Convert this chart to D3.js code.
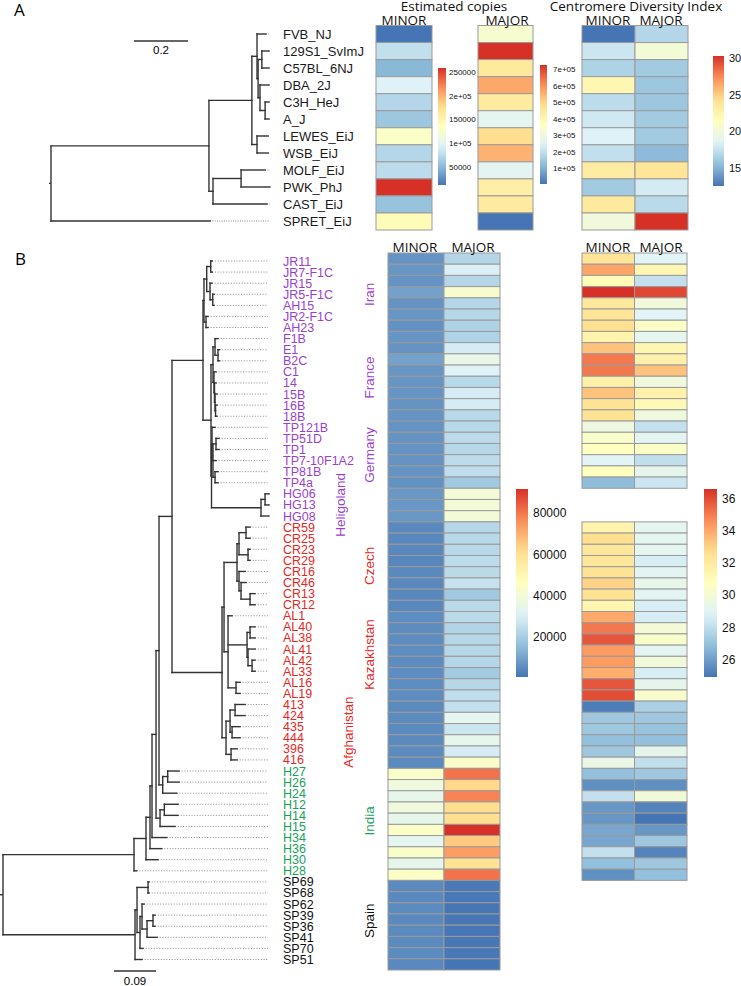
<!DOCTYPE html>
<html><head><meta charset="utf-8">
<script src="https://cdn.jsdelivr.net/npm/d3@7"></script>
<style>
body{margin:0;background:#fff}
text{font-family:"Liberation Sans",Arial,Helvetica,sans-serif}
.hd{font-family:"Open Sans","Liberation Sans",sans-serif}
</style>
</head><body>
<svg id="c" width="741" height="986" xmlns="http://www.w3.org/2000/svg"></svg>
<script>
// ---------------- DATA ----------------
// Panel A
const treeA = "((((FVB_NJ:0.033,((129S1_SvImJ:0.026,C57BL_6NJ:0.026):0.014,(DBA_2J:0.033,(C3H_HeJ:0.014,A_J:0.014):0.019):0.007):0.004):0.019,(LEWES_EiJ:0.041,WSB_EiJ:0.041):0.019):0.159,((MOLF_EiJ:0.089,PWK_PhJ:0.107):0.104,CAST_EiJ:0.2):0.015):0.585,SPRET_EiJ:0.589);";
const tipsA = ["FVB_NJ","129S1_SvImJ","C57BL_6NJ","DBA_2J","C3H_HeJ","A_J","LEWES_EiJ","WSB_EiJ","MOLF_EiJ","PWK_PhJ","CAST_EiJ","SPRET_EiJ"];
const copiesMinorA = [12000, 78000, 49000, 93000, 71000, 59000, 130000, 71000, 76000, 258000, 56000, 140000];
const copiesMajorA = [328000, 724000, 450000, 566000, 443000, 263000, 486000, 551000, 256000, 429000, 443000, 5000];
const cdiMinorA = [12.5, 17.7, 16.6, 22.3, 17.1, 17.8, 18.4, 17.3, 23.2, 16.1, 23.4, 20.0];
const cdiMajorA = [16.8, 20.2, 16.1, 15.9, 15.9, 16.1, 16.1, 15.3, 23.9, 18.0, 17.0, 30.3];
const ticksCopiesMinorA = [50000, 100000, 150000, 200000, 250000];
const tickLabCopiesMinorA = ["50000", "1e+05", "150000", "2e+05", "250000"];
const ticksCopiesMajorA = [100000, 200000, 300000, 400000, 500000, 600000, 700000];
const tickLabCopiesMajorA = ["1e+05", "2e+05", "3e+05", "4e+05", "5e+05", "6e+05", "7e+05"];
const ticksCdiA = [15, 20, 25, 30];
const scaleBarA = 0.2;

// Panel B
const treeB = "((((((((((((JR11:0.0034,JR7-F1C:0.0034):0.0086,(JR15:0.0043,(JR5-F1C:0.0028,AH15:0.0028):0.0058):0.0071):0.0058,(JR2-F1C:0.0043,AH23:0.0043):0.0043):0.0021,(((F1B:0.0064,(E1:0.0032,B2C:0.0032):0.0064):0.0043,(C1:0.0043,(14:0.0032,(15B:0.0043,(16B:0.0032,18B:0.0032):0.0011):0.0011):0.0011):0.0021):0.0043,((TP121B:0.0064,((TP51D:0.0064,TP1:0.0064):0.0064,TP7-10F1A2:0.0064,(TP81B:0.0064,TP4a:0.0064):0.0043):0.0021):0.0011,((HG06:0.0086,HG13:0.0086):0.0086,HG08:0.0171):0.106):0.0011):0.0171):0.0664,(((((CR59:0.0086,CR25:0.0086):0.015,(CR23:0.0043,CR29:0.0043):0.0193):0.0043,(CR16:0.0128,(CR46:0.0107,(CR13:0.0107,CR12:0.0107):0.0193):0.0043):0.0043):0.0278,(AL1:0.0086,((AL40:0.0107,AL38:0.0107):0.0064,(AL41:0.015,(AL42:0.0064,AL33:0.0064):0.0086):0.0021):0.0407,(AL16:0.0086,AL19:0.0086):0.0171):0.0086):0.0043,(((413:0.0214,424:0.0214):0.0107,(435:0.0171,444:0.0171):0.0043):0.0086,(396:0.0128,416:0.0128):0.0107):0.0086):0.1071):0.0278,((H27:0.0242,H26:0.0242):0.0107,H24:0.03):0.0079):0.0064,((H12:0.0293,H14:0.0293):0.0092,H15:0.0321):0.0086):0.0086,H34:0.0315):0.0043,H36:0.025):0.0086,H30:0.0257):0.0257,H28:0.0058):0.2805,(((SP69:0.0021,SP68:0.0021):0.0236,((SP62:0.0043,((SP39:0.0043,SP36:0.0043):0.0128,SP41:0.0214):0.0107):0.0043,SP70:0.0064):0.0064):0.0043,SP51:0.015):0.2827);";
const tipsB = ["JR11","JR7-F1C","JR15","JR5-F1C","AH15","JR2-F1C","AH23","F1B","E1","B2C","C1","14","15B","16B","18B","TP121B","TP51D","TP1","TP7-10F1A2","TP81B","TP4a","HG06","HG13","HG08","CR59","CR25","CR23","CR29","CR16","CR46","CR13","CR12","AL1","AL40","AL38","AL41","AL42","AL33","AL16","AL19","413","424","435","444","396","416","H27","H26","H24","H12","H14","H15","H34","H36","H30","H28","SP69","SP68","SP62","SP39","SP36","SP41","SP70","SP51"];
const regionNames = ["Iran","France","Germany","Heligoland","Czech","Kazakhstan","Afghanistan","India","Spain"];
const regionCounts = [7, 8, 6, 3, 8, 8, 6, 10, 8];
const copiesMinorB = [7000,7300,7000,9700,6800,7300,6300, 7300,7000,9800,7300,7100,7100,7000,6800, 7000,7000,7000,7000,6900,6300, 7800,7800,7800,
  4600,4400,4500,4300,4600,4500,4400,4500, 5500,5400,5600,5500,5300,5500,5600,5400, 5000,5100,4900,5000,5200,5000,
  43400,38000,34300,38000,34300,44300,33400,43400,34300,44300, 5000,4800,5200,4600,5000,4900,5100,4700];
const copiesMajorB = [22400,29700,22400,42500,22400,22800,21500, 21500,28800,35200,30600,23300,28800,28800,23300, 23300,24300,22800,24300,24600,18800, 39700,39700,39700,
  22800,23300,23300,24300,23600,26000,18800,23600, 23600,22000,22800,22800,22400,19000,22800,24600, 25000,33400,27000,34300,28800,43400,
  80700,62500,78000,61600,61300,91600,65200,73400,59800,80700, 1500,1200,900,1000,800,1100,1300,600];
const cdiMinorB = [32.4,34.1,31.0,36.6,32.2,32.4,32.7, 31.5,33.4,35.1,35.1,31.7,33.4,32.5,32.5, 29.6,30.4,30.75,28.9,30.75,26.8, null,null,null,
  31.5,32.7,32.3,32.3,32.5,33.0,32.5,31.4, 34.0,35.1,35.8,34.3,34.3,33.9,35.8,36.0, 25.1,27.2,27.2,26.9,27.2,29.4,
  26.9,25.6,28.1,25.8,25.8,26.2,26.2,28.1,26.9,25.6, null,null,null,null,null,null,null,null];
const cdiMajorB = [28.9,31.3,28.1,36.1,29.8,28.9,30.5, 29.1,31.3,31.6,33.4,29.8,31.6,31.1,29.7, 28.1,29.0,30.5,28.0,29.2,28.3, null,null,null,
  29.1,29.1,29.1,28.6,29.0,29.3,29.0,28.6, 28.6,30.0,30.4,29.0,29.9,28.6,29.2,30.3, 27.5,27.2,27.0,26.9,29.2,28.0,
  27.2,25.6,29.9,25.3,24.9,25.8,27.2,25.3,27.2,26.9, null,null,null,null,null,null,null,null];
const ticksCopiesB = [20000, 40000, 60000, 80000];
const ticksCdiB = [26, 28, 30, 32, 34, 36];
const scaleBarB = 0.09;

// ---------------- STYLE ----------------
const pal = ["#4575B4","#91BFDB","#E0F3F8","#FFFFBF","#FEE090","#FC8D59","#D73027"];
const regionColor = {Iran:"#9a3fd0",France:"#9a3fd0",Germany:"#9a3fd0",Heligoland:"#9a3fd0",Czech:"#e8271f",Kazakhstan:"#e8271f",Afghanistan:"#e8271f",India:"#17a25a",Spain:"#111"};
const regionX = {Heligoland:340, Afghanistan:348};

function heatScale(ext){
  const [a,b] = ext;
  return d3.scaleLinear().domain(d3.range(7).map(i=>a+(b-a)*i/6)).range(pal).interpolate(d3.interpolateRgb).clamp(true);
}
function extentOf(...arrs){ return d3.extent([].concat(...arrs).filter(v=>v!=null)); }

function parseNewick(s){
  let i=0;
  function node(){
    const n={};
    if(s[i]==='('){
      n.children=[]; i++;
      while(true){ n.children.push(node()); if(s[i]===','){i++;} else break; }
      i++;
    }
    let name=''; while(i<s.length && !':,);'.includes(s[i])) name+=s[i++];
    n.name=name;
    if(s[i]===':'){ i++; let l=''; while(i<s.length && !',);'.includes(s[i])) l+=s[i++]; n.length=+l; } else n.length=0;
    return n;
  }
  return node();
}

const svg = d3.select("#c");

function drawTree(g, newick, xs, ys, dotEnd, labX, fs, colorOf, dash, rootTick){
  const root = d3.hierarchy(parseNewick(newick));
  root.eachBefore(d=>{ d.dist = d.parent ? d.parent.dist + d.data.length : 0; });
  root.leaves().forEach((l,i)=>l.idx=i);
  root.eachAfter(d=>{ d.py = d.children ? (d.children[0].py + d.children[d.children.length-1].py)/2 : ys(d.idx); });
  const col = "#333";
  g.append("g").selectAll("line").data(root.leaves()).join("line")
    .attr("x1",d=>xs(d.dist)).attr("x2",dotEnd).attr("y1",d=>d.py).attr("y2",d=>d.py)
    .attr("stroke","#8a8a8a").attr("stroke-width",1).attr("stroke-dasharray",dash);
  g.append("g").selectAll("line").data(root.descendants().filter(d=>d.parent)).join("line")
    .attr("x1",d=>xs(d.parent.dist)).attr("x2",d=>xs(d.dist)).attr("y1",d=>d.py).attr("y2",d=>d.py)
    .attr("stroke",col).attr("stroke-width",1.4).attr("stroke-linecap","square");
  g.append("g").selectAll("line").data(root.descendants().filter(d=>d.children)).join("line")
    .attr("x1",d=>xs(d.dist)).attr("x2",d=>xs(d.dist)).attr("y1",d=>d.children[0].py).attr("y2",d=>d.children[d.children.length-1].py)
    .attr("stroke",col).attr("stroke-width",1.4).attr("stroke-linecap","square");
  g.append("line").attr("x1",xs(0)-rootTick).attr("x2",xs(0)).attr("y1",root.py).attr("y2",root.py).attr("stroke",col).attr("stroke-width",1.4);
  g.append("g").selectAll("text").data(root.leaves()).join("text")
    .attr("x",labX).attr("y",d=>d.py).attr("dy","0.36em").attr("font-size",fs)
    .attr("fill",d=>colorOf(d.data.name)).text(d=>d.data.name);
  return root;
}

function drawHeat(g, names, vals, x0, w, band, sc){
  g.append("g").selectAll("rect").data(names.map((n,i)=>({i,v:vals[i]})).filter(d=>d.v!=null)).join("rect")
    .attr("x",x0).attr("width",w).attr("y",d=>band(d.i)).attr("height",band.bandwidth())
    .attr("fill",d=>sc(d.v)).attr("stroke","#9a9a9a").attr("stroke-width",1);
}

let gid=0;
function drawLegend(g, ext, sc, x, w, yTop, yBot, ticks, labs, labX, fs){
  const id="lg"+(gid++);
  const grad = svg.append("defs").append("linearGradient").attr("id",id).attr("x1",0).attr("x2",0).attr("y1",1).attr("y2",0);
  d3.range(0,1.0001,0.05).forEach(t=>grad.append("stop").attr("offset",t).attr("stop-color",sc(ext[0]+(ext[1]-ext[0])*t)));
  g.append("rect").attr("x",x).attr("y",yTop).attr("width",w).attr("height",yBot-yTop).attr("fill",`url(#${id})`);
  const yl = d3.scaleLinear().domain(ext).range([yBot,yTop]);
  const ax = d3.axisRight(yl).tickValues(ticks).tickSize(0).tickPadding(0).tickFormat((d,i)=>labs?labs[i]:d);
  const ag = g.append("g").attr("transform",`translate(${labX},0)`).call(ax);
  ag.select(".domain").remove();
  ag.selectAll("text").attr("font-size",fs).attr("font-family","Liberation Sans, Arial, sans-serif").attr("fill","#111");
}

// ---------------- PANEL A ----------------
const gA = svg.append("g");
const xA = d3.scaleLinear().domain([0,1]).range([51,321]);
const yA = d3.scaleLinear().domain([0,11]).range([34,221]);
drawTree(gA, treeA, xA, yA, 270, 283, 13, ()=>"#1a1a1a", "1,1.3", 2);
gA.append("text").attr("x",14).attr("y",16).attr("font-size",17).text("A").attr("class","hd");
gA.append("line").attr("x1",134).attr("x2",134+xA(scaleBarA)-xA(0)).attr("y1",41).attr("y2",41).attr("stroke","#333").attr("stroke-width",1.4);
gA.append("text").attr("x",134+(xA(scaleBarA)-xA(0))/2).attr("y",54).attr("text-anchor","middle").attr("font-size",11.5).text(scaleBarA);

const bandA = d3.scaleBand().domain(d3.range(12)).range([25.5,230]);
const extCMinA = extentOf(copiesMinorA), extCMajA = extentOf(copiesMajorA), extCdiA = extentOf(cdiMinorA,cdiMajorA);
const scCMinA = heatScale(extCMinA), scCMajA = heatScale(extCMajA), scCdiA = heatScale(extCdiA);
drawHeat(gA, tipsA, copiesMinorA, 376, 56, bandA, scCMinA);
drawHeat(gA, tipsA, copiesMajorA, 478, 55, bandA, scCMajA);
drawHeat(gA, tipsA, cdiMinorA, 582, 53, bandA, scCdiA);
drawHeat(gA, tipsA, cdiMajorA, 635, 53, bandA, scCdiA);
drawLegend(gA, extCMinA, scCMinA, 438, 8, 68, 185, ticksCopiesMinorA, tickLabCopiesMinorA, 449, 8);
drawLegend(gA, extCMajA, scCMajA, 540, 7, 65, 184, ticksCopiesMajorA, tickLabCopiesMajorA, 553, 8);
drawLegend(gA, extCdiA, scCdiA, 713, 11, 56, 186, ticksCdiA, null, 729, 11);

const hdr = (g,x,y,t,fs)=>g.append("text").attr("class","hd").attr("x",x).attr("y",y).attr("text-anchor","middle").attr("font-size",fs).attr("fill","#111").text(t);
hdr(gA,454,11,"Estimated copies",13.5);
hdr(gA,636,11,"Centromere Diversity Index",13.5);
hdr(gA,404,24.5,"MINOR",13.5); hdr(gA,507,24.5,"MAJOR",13.5);
hdr(gA,608,24.5,"MINOR",13.5); hdr(gA,661,24.5,"MAJOR",13.5);

// ---------------- PANEL B ----------------
const gB = svg.append("g");
const xB = d3.scaleLinear().domain([0,1]).range([3,470]);
const yB = d3.scaleLinear().domain([0,63]).range([261,959.5]);
const tipRegion = {};
let k=0; regionNames.forEach((r,ri)=>{ for(let j=0;j<regionCounts[ri];j++) tipRegion[tipsB[k++]]=r; });
drawTree(gB, treeB, xB, yB, 268, 283, 12.5, n=>regionColor[tipRegion[n]], "1,1.7", 3);
gB.append("text").attr("x",15).attr("y",265).attr("font-size",17).text("B").attr("class","hd");
gB.append("line").attr("x1",114).attr("x2",114+xB(scaleBarB)-xB(0)).attr("y1",971).attr("y2",971).attr("stroke","#333").attr("stroke-width",1.4);
gB.append("text").attr("x",114+(xB(scaleBarB)-xB(0))/2).attr("y",985).attr("text-anchor","middle").attr("font-size",11.5).text(scaleBarB);

// region labels
let st=0;
regionNames.forEach((r,ri)=>{
  const a=st, b=st+regionCounts[ri]-1; st+=regionCounts[ri];
  const cy=(yB(a)+yB(b))/2, cx=regionX[r]||369;
  gB.append("text").attr("transform",`translate(${cx},${cy}) rotate(-90)`).attr("text-anchor","middle").attr("dy","0.35em")
    .attr("font-size",13.5).attr("fill",regionColor[r]).text(r);
});

const bandB = d3.scaleBand().domain(d3.range(64)).range([253,970]);
const extCB = extentOf(copiesMinorB,copiesMajorB), extCdiB = extentOf(cdiMinorB,cdiMajorB);
const scCB = heatScale(extCB), scCdiB = heatScale(extCdiB);
drawHeat(gB, tipsB, copiesMinorB, 388, 56, bandB, scCB);
drawHeat(gB, tipsB, copiesMajorB, 444, 56, bandB, scCB);
drawHeat(gB, tipsB, cdiMinorB, 582, 52.5, bandB, scCdiB);
drawHeat(gB, tipsB, cdiMajorB, 634.5, 52.5, bandB, scCdiB);
drawLegend(gB, extCB, scCB, 516, 12, 489, 677, ticksCopiesB, null, 533, 12);
drawLegend(gB, extCdiB, scCdiB, 704, 13, 489, 677, ticksCdiB, null, 722, 12);
hdr(gB,415,252,"MINOR",13.5); hdr(gB,473,252,"MAJOR",13.5);
hdr(gB,608,252,"MINOR",13.5); hdr(gB,661,252,"MAJOR",13.5);
</script>
</body></html>
